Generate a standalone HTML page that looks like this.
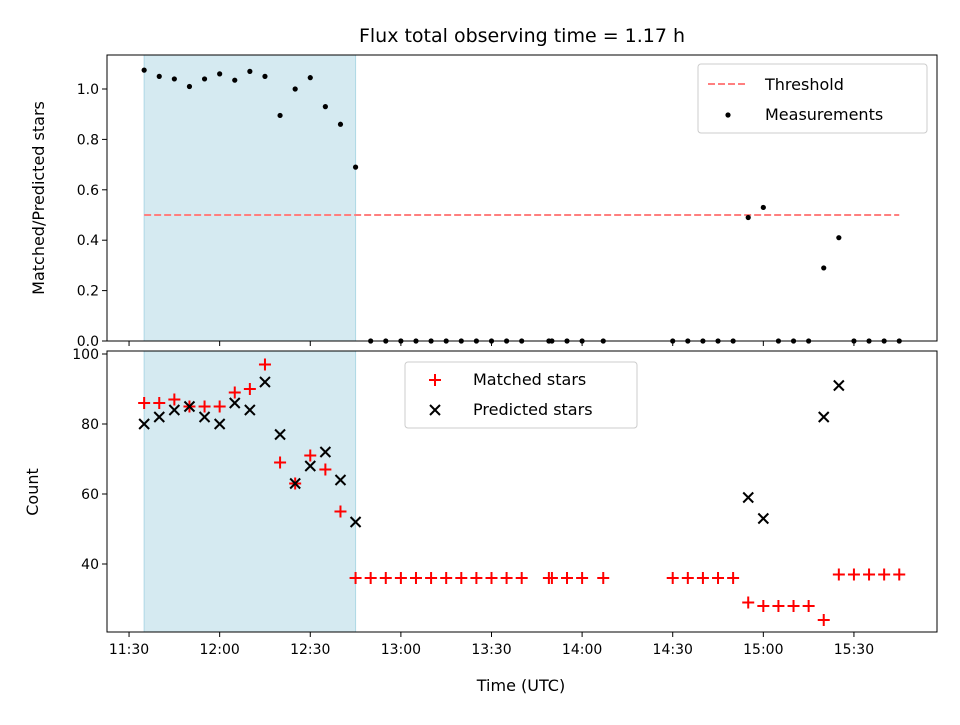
<!DOCTYPE html>
<html><head><meta charset="utf-8"><style>
body{margin:0;background:#fff}
svg text{font-family:"DejaVu Sans","Liberation Sans",sans-serif;fill:#000}
</style></head><body>
<svg id="chart" width="960" height="720" xmlns="http://www.w3.org/2000/svg">
<text x="522" y="42" font-size="19" text-anchor="middle">Flux total observing time = 1.17 h</text>
<g id="topPanel"></g><g id="botPanel"></g>
<text x="521" y="691" font-size="16" text-anchor="middle">Time (UTC)</text>
<text transform="translate(44,198) rotate(-90)" font-size="16" text-anchor="middle">Matched/Predicted stars</text>
<text transform="translate(38,492) rotate(-90)" font-size="16" text-anchor="middle">Count</text>
</svg>
<script>
// times in minutes since midnight (UTC)
const times=[695,700,705,710,715,720,725,730,735,740,745,750,755,760,765,770,775,780,785,790,795,800,805,810,815,820,829,830,835,840,847,870,875,880,885,890,895,900,905,910,915,920,925,930,935,940,945];
const matched=[86,86,87,85,85,85,89,90,97,69,63,71,67,55,36,36,36,36,36,36,36,36,36,36,36,36,36,36,36,36,36,36,36,36,36,36,29,28,28,28,28,24,37,37,37,37,37];
const predicted=[80,82,84,85,82,80,86,84,92,77,63,68,72,64,52,null,null,null,null,null,null,null,null,null,null,null,null,null,null,null,null,null,null,null,null,null,59,53,null,null,null,82,91,null,null,null,null];
const ratio=[1.075,1.05,1.04,1.01,1.04,1.06,1.035,1.07,1.05,0.895,1.0,1.045,0.93,0.86,0.69,0,0,0,0,0,0,0,0,0,0,0,0,0,0,0,0,0,0,0,0,0,0.49,0.53,0,0,0,0.29,0.41,0,0,0,0];
const threshold=0.5;
const shadeStart=695, shadeEnd=765;
const xTickMins=[690,720,750,780,810,840,870,900,930];
const xTickLabels=["11:30","12:00","12:30","13:00","13:30","14:00","14:30","15:00","15:30"];
const topTicks=[0,0.2,0.4,0.6,0.8,1.0];
const botTicks=[40,60,80,100];

const NS="http://www.w3.org/2000/svg";
const L=107,R=937;
const X=m=>L+(m-682.7)/(957.5-682.7)*(R-L);
const YT=v=>341-v*252;
const YB=v=>564-(v-40)*3.5;
function el(p,t,a){const e=document.createElementNS(NS,t);for(const k in a)e.setAttribute(k,a[k]);p.appendChild(e);return e;}
const topG=document.getElementById('topPanel'), botG=document.getElementById('botPanel');

function shade(g,y0,y1,name){
  const s=el(g,'rect',{x:X(shadeStart),y:y0,width:X(shadeEnd)-X(shadeStart),height:y1-y0,fill:'#d5eaf1',stroke:'#aed8e6'});
  
  
}
function frame(g,y0,y1,name,labels){
  const f=el(g,'rect',{x:L,y:y0,width:R-L,height:y1-y0,fill:'none',stroke:'#000','stroke-width':1});
  
  
  xTickMins.forEach((m,i)=>{
    el(g,'line',{x1:X(m),x2:X(m),y1:y1,y2:y1+5,stroke:'#000'});
    if(labels){const t=el(g,'text',{x:X(m),y:y1+22,'font-size':14,'text-anchor':'middle'});t.textContent=xTickLabels[i];
      
      }
  });
}
// top
shade(topG,55,341,'top');
const th=el(topG,'line',{x1:X(695),x2:X(945),y1:YT(threshold),y2:YT(threshold),stroke:'#ff7f7f','stroke-width':2,'stroke-dasharray':'7,3'});


times.forEach((m,i)=>{const c=el(topG,'circle',{cx:X(m),cy:YT(ratio[i]),r:2.6,fill:'#000'});
  
  });
topTicks.forEach(v=>{el(topG,'line',{x1:L-5,x2:L,y1:YT(v),y2:YT(v),stroke:'#000'});
  const t=el(topG,'text',{x:L-8,y:YT(v)+5,'font-size':14,'text-anchor':'end'});t.textContent=v.toFixed(1);
  
  });
frame(topG,55,341,'top',false);
// bottom
shade(botG,351,632,'bottom');
function plus(g,x,y){return el(g,'path',{d:`M${x-6},${y}H${x+6}M${x},${y-6}V${y+6}`,stroke:'#f00','stroke-width':2});}
function cross(g,x,y){return el(g,'path',{d:`M${x-5},${y-5}L${x+5},${y+5}M${x-5},${y+5}L${x+5},${y-5}`,stroke:'#000','stroke-width':2});}
times.forEach((m,i)=>{const p=plus(botG,X(m),YB(matched[i]));
  
  
  if(predicted[i]!==null){const c=cross(botG,X(m),YB(predicted[i]));
  
  }});
botTicks.forEach(v=>{el(botG,'line',{x1:L-5,x2:L,y1:YB(v),y2:YB(v),stroke:'#000'});
  const t=el(botG,'text',{x:L-8,y:YB(v)+5,'font-size':14,'text-anchor':'end'});t.textContent=v;
  
  });
frame(botG,351,632,'bottom',true);
// legends
const lg1=el(topG,'g',{});


el(lg1,'rect',{x:698,y:64,width:229,height:69,rx:3,fill:'#fff',stroke:'#ccc'});
el(lg1,'line',{x1:708,x2:748,y1:84,y2:84,stroke:'#ff7f7f','stroke-width':2,'stroke-dasharray':'7,3'});
let t=el(lg1,'text',{x:765,y:90,'font-size':16});t.textContent='Threshold';
el(lg1,'circle',{cx:728,cy:115,r:2.6,fill:'#000'});
t=el(lg1,'text',{x:765,y:120,'font-size':16});t.textContent='Measurements';
const lg2=el(botG,'g',{});


el(lg2,'rect',{x:405,y:362,width:232,height:66,rx:3,fill:'#fff',stroke:'#ccc'});
plus(lg2,435,380);
t=el(lg2,'text',{x:473,y:385,'font-size':16});t.textContent='Matched stars';
cross(lg2,435,410);
t=el(lg2,'text',{x:473,y:415,'font-size':16});t.textContent='Predicted stars';
</script>
</body></html>
